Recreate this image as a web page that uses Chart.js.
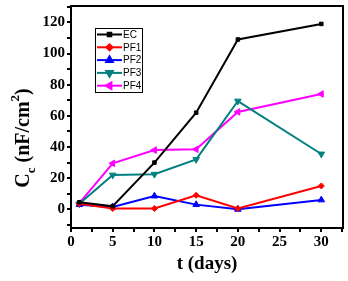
<!DOCTYPE html>
<html><head><meta charset="utf-8">
<script src="https://cdn.jsdelivr.net/npm/chart.js@4/dist/chart.umd.min.js"></script>
<style>html,body{margin:0;padding:0;background:#fff}#wrap{width:348px;height:281px}</style>
</head><body><div id="wrap"><canvas id="c" width="348" height="281"></canvas></div>
<script>
const days = [1, 5, 10, 15, 20, 30];
const seriesNames = ['EC', 'PF1', 'PF2', 'PF3', 'PF4'];
const EC  = [4.5, 2, 30, 62, 109, 119];
const PF1 = [3.5, 0.5, 0.5, 9, 0.5, 15];
const PF2 = [3, 1.5, 8.5, 3, 0, 6];
const PF3 = [3.5, 22, 22.5, 32, 69.5, 35.5];
const PF4 = [4, 29.5, 38, 38.5, 62.5, 74];
const yLabels = [0, 20, 40, 60, 80, 100, 120];
const xLabels = [0, 5, 10, 15, 20, 25, 30];

const colors = ['#000000', '#ff0000', '#0000ff', '#008080', '#ff00ff'];
const markers = [
  {style:'rect', rot:0, r:2.5},
  {style:'rectRot', rot:0, r:3},
  {style:'triangle', rot:0, r:3.8},
  {style:'triangle', rot:180, r:3.8},
  {style:'triangle', rot:270, r:3.8}
];
const values = [EC, PF1, PF2, PF3, PF4];

const datasets = seriesNames.map((n, i) => ({
  label: n,
  data: days.map((d, j) => ({x: d, y: values[i][j]})),
  borderColor: colors[i],
  backgroundColor: colors[i],
  borderWidth: 2,
  pointStyle: markers[i].style,
  rotation: markers[i].rot,
  pointRadius: markers[i].r,
  pointBorderWidth: 1,
  tension: 0
}));

const serif = '"Liberation Serif", "Times New Roman", serif';

const extras = {
  id: 'extras',
  afterDraw(chart) {
    const ctx = chart.ctx;
    const a = chart.chartArea;
    ctx.save();
    ctx.strokeStyle = '#000';
    ctx.lineWidth = 2;
    ctx.strokeRect(a.left, a.top, a.right - a.left, a.bottom - a.top);
    ctx.fillStyle = '#000';
    ctx.font = 'bold 19px ' + serif;
    ctx.textAlign = 'center';
    ctx.textBaseline = 'alphabetic';
    ctx.fillText('t (days)', 207, 269);
    ctx.translate(29, 138);
    ctx.rotate(-Math.PI / 2);
    const big = 'bold 20px ' + serif, small = 'bold 13px ' + serif;
    const parts = [
      {t:'C', f:big, dy:0},
      {t:'c', f:small, dy:6},
      {t:' (nF/cm', f:big, dy:0},
      {t:'2', f:small, dy:-10},
      {t:')', f:big, dy:0}
    ];
    let total = 0;
    parts.forEach(p => { ctx.font = p.f; p.w = ctx.measureText(p.t).width; total += p.w; });
    let x = -total / 2;
    ctx.textAlign = 'left';
    parts.forEach(p => { ctx.font = p.f; ctx.fillText(p.t, x, p.dy); x += p.w; });
    ctx.restore();
    // legend
    ctx.save();
    const lx = 95, ly = 28, lw = 47, lh = 64;
    ctx.fillStyle = '#fff';
    ctx.fillRect(lx, ly, lw, lh);
    ctx.strokeStyle = '#000';
    ctx.lineWidth = 1;
    ctx.strokeRect(lx + 0.5, ly + 0.5, lw, lh);
    ctx.font = '10px "Liberation Sans", Arial, sans-serif';
    ctx.textBaseline = 'middle';
    seriesNames.forEach((n, i) => {
      const y = ly + 6.5 + i * 12.8;
      ctx.strokeStyle = colors[i];
      ctx.lineWidth = 2;
      ctx.beginPath(); ctx.moveTo(lx + 2, y); ctx.lineTo(lx + 27, y); ctx.stroke();
      Chart.helpers.drawPoint(ctx, {pointStyle: markers[i].style, rotation: markers[i].rot, radius: markers[i].r, borderWidth: 1}, lx + 14.5, y);
      ctx.fillStyle = colors[i];
      ctx.fill();
      ctx.fillStyle = '#000';
      ctx.fillText(n, lx + 28, y + 0.5);
    });
    ctx.restore();
  }
};

new Chart(document.getElementById('c'), {
  type: 'line',
  data: { datasets },
  options: {
    responsive: false,
    animation: false,
    layout: { padding: { left: 0, right: 3, top: 6, bottom: 0 } },
    plugins: { legend: { display: false }, tooltip: { enabled: false } },
    scales: {
      x: {
        type: 'linear', min: 0, max: 32.6,
        afterBuildTicks(s) {
          const t = [];
          for (let v = 0; v <= 32.5; v += 2.5) t.push({value: v});
          s.ticks = t;
        },
        afterFit(s) { s.height = 53; s.paddingLeft = 0; s.paddingRight = 0; },
        border: { display: true, color: '#000', width: 2 },
        grid: { drawOnChartArea: false, drawTicks: true, tickLength: 4, color: '#000', lineWidth: 2 },
        ticks: {
          autoSkip: false, maxRotation: 0, color: '#000', padding: 1,
          font: { family: serif, size: 15, weight: 'bold' },
          callback: v => xLabels.includes(v) ? String(v) : ''
        }
      },
      y: {
        type: 'linear', min: -12, max: 130.5,
        afterBuildTicks(s) {
          const t = [];
          for (let v = -10; v <= 130; v += 10) t.push({value: v});
          s.ticks = t;
        },
        afterFit(s) { s.width = 71; s.paddingTop = 0; s.paddingBottom = 0; },
        border: { display: true, color: '#000', width: 2 },
        grid: { drawOnChartArea: false, drawTicks: true, tickLength: 4, color: '#000', lineWidth: 2 },
        ticks: {
          autoSkip: false, color: '#000', padding: 2,
          font: { family: serif, size: 15, weight: 'bold' },
          callback: v => yLabels.includes(v) ? String(v) : ''
        }
      }
    }
  },
  plugins: [extras]
});
</script>
</body></html>
